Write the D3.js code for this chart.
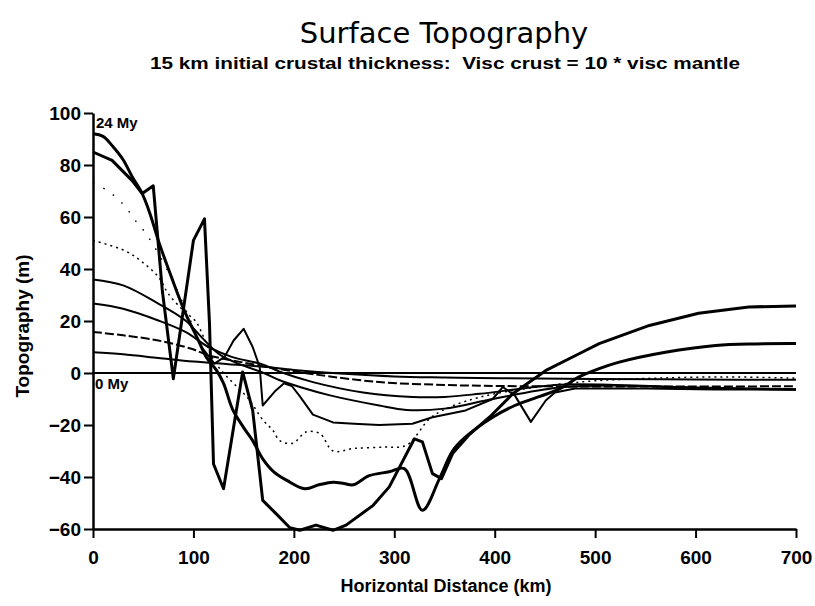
<!DOCTYPE html>
<html><head><meta charset="utf-8">
<script src="https://cdn.jsdelivr.net/npm/d3@7"></script>
<style>body{margin:0;background:#fff}svg text{white-space:pre}</style>
</head><body>
<svg id="c" width="815" height="606"></svg>
<script>
// ---- data ----
const xTicks = [0,100,200,300,400,500,600,700];
const yTicks = [-60,-40,-20,0,20,40,60,80,100];

// 24 My (smooth, thick)
const xA = [0,10,20,30,39,49,57,65,78,92,105,113,123,130,139,150,159,169,180,193,211,225,239,250,259,275,295,310,328,345,358,371,398,420,445,465,484,504,524,570,620,660,700];
const yA = [92,91,87,82,75.5,69,61,51,37,23,12.5,6,1,-4,-14,-21,-26,-33,-38,-41.3,-44.5,-43,-42,-42.5,-43,-39.5,-38,-36.8,-52.8,-40.6,-30,-24.6,-17,-12.5,-9,-6,-1.5,1.7,4.2,8,10.6,11.2,11.3];
// wiggly thick
const xB = [0,19,39,49,60,69,80,100,111,116,120,130,149,159,169,182,196,206,222,239,252,279,295,320,328,338,347,358,375,395,418,451,484,504,554,603,653,700];
const yB = [85,81.8,74,69,72,31.8,-2.2,51,59.3,19,-35,-44.5,0.4,-14.4,-49,-54,-59.5,-60.5,-58.5,-60.5,-58.5,-50.9,-43.8,-25.3,-26.5,-38.7,-40.6,-31,-23.6,-16.9,-8,1,7.4,11.3,18.3,23,25.4,25.8];
// faint dotted start, then solid hump
const xI = [0,15,31,42,52,65,80,95,108,121,131,140,150,159,166,169,182,190,198,206,219,239,260,285,318,338,371,398,408,420,436,451,460,480,550,620,700];
const yI = [73,70,64.5,58.7,54,46,35,22,10,3.6,6.2,12.5,17,10,2.3,-12.5,-6.7,-4,-5,-9,-16,-19,-19.5,-20,-19.5,-17,-14.4,-10,-5.4,-8.6,-18.8,-10.5,-7.5,-6,-6,-6.3,-6.4];
// dotted
const xC = [0,32,49,65,75,90,102,110,120,130,140,155,169,179,186,199,212,226,239,260,290,312,335,348,370,400,450,500,560,630,700];
const yC = [51,47,42.7,37,30.5,24,20,14,5,0,-4,-10,-18,-22,-26,-27,-22.7,-23.3,-30,-29,-28.5,-27.8,-17.6,-14.4,-11,-8,-5,-3,-2,-1.5,-2];
const xD = [0,30,65,92,108,125,141,170,186,206,236,285,312,350,398,464,520,600,700];
const yD = [36,33.7,26.7,20.2,13.8,7.4,4.2,0,-2.8,-5.4,-8.6,-12.5,-14.2,-13.7,-10,-5.6,-4.8,-5.8,-6.4];
const xE = [0,30,65,92,115,138,168,186,219,269,318,350,385,464,520,600,700];
const yE = [26.7,24.7,20.2,15.8,10,6.2,3.4,0.5,-3.5,-7.5,-9.2,-9.2,-8,-4.5,-4.6,-5.6,-6.2];
const xF = [0,30,65,98,115,150,186,220,285,350,405,500,600,700];
const yF = [15.8,14.5,12.5,9.3,6.8,4,1.5,-0.5,-3.5,-4.6,-5,-5.2,-5.2,-5.1];
const xG = [0,30,65,100,135,170,200,250,300,350,405,500,600,700];
const yG = [8,7.2,5.8,4.4,3.4,2.4,1.2,-0.3,-1.3,-1.7,-2,-2.3,-2.5,-2.6];
// 0 My
const xH = [0,700];
const yH = [0,0];

const svg = d3.select("#c");
const x = d3.scaleLinear().domain([0,700]).range([93,796]);
const y = d3.scaleLinear().domain([-60,100]).range([529,113]);

const F = "'Liberation Sans', Arial, sans-serif";

// title
svg.append("text").attr("x",444).attr("y",43).attr("text-anchor","middle")
  .style("font-family","'DejaVu Sans', sans-serif").style("font-size","29px").text("Surface Topography");
svg.append("text").attr("x",445).attr("y",69).attr("text-anchor","middle")
  .attr("textLength",590).attr("lengthAdjust","spacingAndGlyphs")
  .style("font-family",F).style("font-weight","bold").style("font-size","17px")
  .text("15 km initial crustal thickness:  Visc crust = 10 * visc mantle");

// axes
const ax = svg.append("g").attr("transform",`translate(0,${y(-60)})`)
  .call(d3.axisBottom(x).tickValues(xTicks).tickSize(9).tickSizeOuter(0).tickPadding(13).tickFormat(d3.format("d")));
const ay = svg.append("g").attr("transform",`translate(${x(0)},0)`)
  .call(d3.axisLeft(y).tickValues(yTicks).tickSize(9).tickSizeOuter(0).tickPadding(3).tickFormat(d=>d<0?"\u2212"+Math.abs(d):d));
[ax,ay].forEach(a=>{
  a.select(".domain").attr("stroke","#000").attr("stroke-width",2.5);
  a.selectAll(".tick line").attr("stroke","#000").attr("stroke-width",2);
  a.selectAll(".tick text").style("font-family",F).style("font-weight","bold").style("font-size","19px").attr("fill","#000");
});
svg.append("text").attr("x",446).attr("y",592).attr("text-anchor","middle")
  .style("font-family",F).style("font-weight","bold").style("font-size","18px").text("Horizontal Distance (km)");
svg.append("text").attr("transform","translate(29,326) rotate(-90)").attr("text-anchor","middle")
  .style("font-family",F).style("font-weight","bold").style("font-size","19px").text("Topography (m)");

// curves
const smooth = d3.line().x(d=>x(d[0])).y(d=>y(d[1])).curve(d3.curveCatmullRom.alpha(0.5));
const lin = d3.line().x(d=>x(d[0])).y(d=>y(d[1]));
const pts = (xs,ys)=>xs.map((v,i)=>[v,ys[i]]);
const g = svg.append("g").attr("fill","none").attr("stroke","#000").attr("stroke-linejoin","round");

g.append("path").attr("d",lin(pts(xH,yH))).attr("stroke-width",2);
g.append("path").attr("d",smooth(pts(xG,yG))).attr("stroke-width",2);
g.append("path").attr("d",smooth(pts(xF,yF))).attr("stroke-width",2).attr("stroke-dasharray","9,3");
g.append("path").attr("d",smooth(pts(xE,yE))).attr("stroke-width",2);
g.append("path").attr("d",smooth(pts(xD,yD))).attr("stroke-width",2);
g.append("path").attr("d",smooth(pts(xC,yC))).attr("stroke-width",1.5).attr("stroke-dasharray","2,4");
const pI = pts(xI,yI);
g.append("path").attr("d",smooth(pI.filter(p=>p[0]<=108))).attr("stroke-width",1.5).attr("stroke-dasharray","1.5,10");
g.append("path").attr("d",lin(pI.filter(p=>p[0]>=108))).attr("stroke-width",2);
g.append("path").attr("d",smooth(pts(xA,yA))).attr("stroke-width",3);
g.append("path").attr("d",lin(pts(xB,yB))).attr("stroke-width",3);

// labels
svg.append("text").attr("x",96).attr("y",128).style("font-family",F).style("font-weight","bold").style("font-size","15px").text("24 My");
svg.append("text").attr("x",95).attr("y",389).style("font-family",F).style("font-weight","bold").style("font-size","15px").text("0 My");
</script>
</body></html>
